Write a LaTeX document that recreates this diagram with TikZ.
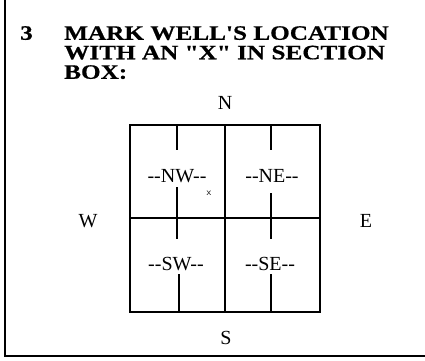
\documentclass[tikz,border=0pt]{standalone}
\usepackage{fontspec}
\setmainfont{Liberation Serif}[Ligatures=TeXOff]
\newfontfamily\titlefont{Liberation Serif}[Ligatures=TeXOff,FakeStretch=1.23,FakeBold=0.6]
\begin{document}
\begin{tikzpicture}[x=1pt,y=-1pt,
  frame/.style={line width=1.4pt},
  grid/.style={line width=2pt},
  tick/.style={line width=2pt},
  compass/.style={font=\fontsize{20}{20}\selectfont,inner sep=0pt},
  quad/.style={font=\fontsize{20}{20}\selectfont,inner sep=0pt},
  title/.style={font=\titlefont\fontsize{20.5}{19.5}\selectfont\bfseries,inner sep=0pt,align=left,anchor=north west}]
\useasboundingbox (0,0) rectangle (425,360);
% frame
\coordinate (ftl) at (5,0);
\coordinate (fbl) at (5,356);
\coordinate (fbr) at (425,356);
\draw[frame] (ftl) -- (fbl) -- (fbr);
% title
\node[title] (num) at (20,26) {3};
\node[title] (ttl) at (64,26) {MARK WELL'S LOCATION\\WITH AN "X" IN SECTION\\BOX:};
% box
\coordinate (tl) at (130,125);
\coordinate (br) at (320,312);
\coordinate (tm) at (225,125);
\coordinate (bm) at (225,312);
\coordinate (lm) at (130,218);
\coordinate (rm) at (320,218);
\draw[grid] (tl) rectangle (br);
\draw[grid] (tm) -- (bm);
\draw[grid] (lm) -- (rm);
% ticks
\coordinate (a1) at (177,125); \coordinate (a2) at (177,150);
\coordinate (a3) at (177,187); \coordinate (a4) at (177,239);
\coordinate (b1) at (271,125); \coordinate (b2) at (271,150);
\coordinate (b3) at (271,193); \coordinate (b4) at (271,239);
\coordinate (c1) at (179,274); \coordinate (c2) at (179,312);
\coordinate (d1) at (271,274); \coordinate (d2) at (271,312);
\draw[tick] (a1) -- (a2) (a3) -- (a4) (b1) -- (b2) (b3) -- (b4) (c1) -- (c2) (d1) -- (d2);
% labels
\node[compass] (N) at (225,103) {N};
\node[compass] (S) at (226,338) {S};
\node[compass] (W) at (88,221) {W};
\node[compass] (E) at (366,221) {E};
\node[quad] (NW) at (177,176) {--NW--};
\node[quad] (NE) at (272,176) {--NE--};
\node[quad] (SW) at (176,264) {--SW--};
\node[quad] (SE) at (270,264) {--SE--};
\node[font=\fontsize{10}{10}\selectfont\sffamily,inner sep=0pt] (X) at (209,193) {x};
\end{tikzpicture}
\end{document}
